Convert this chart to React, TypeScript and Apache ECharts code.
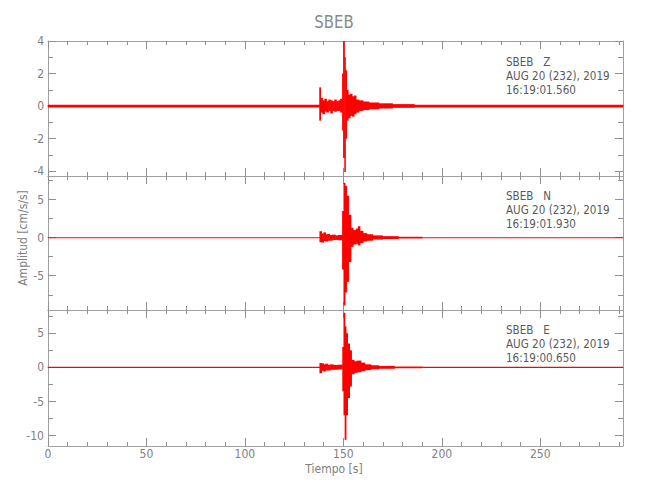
import React, { useEffect, useRef } from "react";
import * as echarts from "echarts";

// ---- Data ----
const stationName = "SBEB";
const components = ["Z", "N", "E"];
const dateLine = "AUG 20 (232), 2019";
const startTimes = ["16:19:01.560", "16:19:01.930", "16:19:00.650"];

const xMajorTicks = [0, 50, 100, 150, 200, 250];
const xMinorTicks = [10, 20, 30, 40, 60, 70, 80, 90, 110, 120, 130, 140, 160, 170, 180, 190, 210, 220, 230, 240, 260, 270, 280, 290];
const xMaxValue = 292;

const yMins = [-4.3, -9.5, -11.5];
const yMaxs = [4.0, 8.1, 8.4];
const yMajorTicks = [[-4, -2, 0, 2, 4], [-5, 0, 5], [-10, -5, 0, 5]];
const yMinorTicks = [[-3, -1, 1, 3], [-7.5, -2.5, 2.5, 7.5], [-7.5, -2.5, 2.5, 7.5]];

// Envelope bins of each trace: [start s, end s, upper, lower]
const zBins = [
  [0, 137.9, 0.085, -0.085],
  [137.9, 138.5, 1.15, -0.9],
  [138.5, 139.5, 0.5, -0.4],
  [139.5, 140.5, 0.35, -0.5],
  [140.5, 141.5, 0.45, -0.35],
  [141.5, 142.5, 0.3, -0.4],
  [142.5, 143.5, 0.4, -0.3],
  [143.5, 144.5, 0.35, -0.45],
  [144.5, 145.5, 0.3, -0.3],
  [145.5, 146.5, 0.4, -0.35],
  [146.5, 147.5, 0.3, -0.3],
  [147.5, 148.5, 0.35, -0.3],
  [148.5, 149.5, 0.45, -0.4],
  [149.5, 150.0, 2.0, -1.5],
  [150.0, 150.6, 4.0, -3.2],
  [150.6, 151.1, 3.0, -4.05],
  [151.1, 151.7, 2.2, -2.0],
  [151.7, 152.5, 1.0, -0.9],
  [152.5, 153.5, 0.7, -0.75],
  [153.5, 154.5, 0.75, -0.6],
  [154.5, 155.5, 0.6, -0.65],
  [155.5, 156.5, 0.65, -0.5],
  [156.5, 158, 0.4, -0.4],
  [158, 160, 0.35, -0.3],
  [160, 163, 0.28, -0.25],
  [163, 168, 0.22, -0.2],
  [168, 175, 0.17, -0.15],
  [175, 186, 0.12, -0.11],
  [186, 292, 0.085, -0.085],
];

const nBins = [
  [0, 138, 0.06, -0.06],
  [138, 139, 0.85, -0.6],
  [139, 140, 0.55, -0.65],
  [140, 141, 0.7, -0.45],
  [141, 142, 0.45, -0.5],
  [142, 143, 0.5, -0.4],
  [143, 144.5, 0.35, -0.4],
  [144.5, 146, 0.4, -0.3],
  [146, 147.5, 0.3, -0.3],
  [147.5, 149.5, 0.35, -0.35],
  [149.5, 150.2, 3.5, -4.2],
  [150.2, 150.9, 7.2, -8.9],
  [150.9, 151.7, 6.8, -7.2],
  [151.7, 152.7, 5.5, -5.8],
  [152.7, 153.9, 3.0, -3.2],
  [153.9, 155, 1.3, -1.2],
  [155, 156.5, 1.0, -0.9],
  [156.5, 157.5, 1.2, -0.8],
  [157.5, 158.5, 1.5, -1.0],
  [158.5, 160, 0.9, -0.7],
  [160, 162, 0.6, -0.5],
  [162, 165, 0.45, -0.4],
  [165, 170, 0.3, -0.25],
  [170, 178, 0.2, -0.18],
  [178, 190, 0.12, -0.11],
  [190, 292, 0.06, -0.06],
];

const eBins = [
  [0, 138, 0.08, -0.08],
  [138, 139, 0.65, -0.85],
  [139, 140, 0.6, -0.5],
  [140, 141, 0.45, -0.6],
  [141, 142, 0.55, -0.45],
  [142, 143.5, 0.4, -0.45],
  [143.5, 145, 0.45, -0.35],
  [145, 147, 0.35, -0.35],
  [147, 149.6, 0.4, -0.3],
  [149.6, 150.2, 3.0, -3.5],
  [150.2, 150.8, 8.0, -7.0],
  [150.8, 151.4, 6.0, -10.6],
  [151.4, 152.2, 5.0, -7.0],
  [152.2, 153.2, 3.5, -4.5],
  [153.2, 154.2, 2.5, -2.8],
  [154.2, 155.5, 1.1, -1.0],
  [155.5, 157, 0.9, -0.8],
  [157, 159, 1.0, -0.7],
  [159, 161, 0.7, -0.55],
  [161, 164, 0.45, -0.4],
  [164, 168, 0.32, -0.28],
  [168, 176, 0.22, -0.2],
  [176, 190, 0.13, -0.12],
  [190, 292, 0.08, -0.08],
];

const traces = [zBins, nBins, eBins];

// ---- Styling / layout ----
const FF = "'DejaVu Sans Condensed', 'Liberation Sans Narrow', 'Liberation Sans', sans-serif";
const AXIS_COLOR = "#a0a0a0";
const TICK_COLOR = "#909090";
const LABEL_COLOR = "#808080";
const TEXT_COLOR = "#5a5a5a";
const WAVE_COLOR = "#ff0000";
const GRID_LEFT = 48;
const GRID_WIDTH = 575;
const gridTops = [41, 176, 310];
const gridHeights = [135, 134, 136];

function buildOption() {
  const grids = gridTops.map((top, i) => ({
    left: GRID_LEFT,
    width: GRID_WIDTH,
    top,
    height: gridHeights[i],
    containLabel: false,
  }));

  const xAxes: any[] = [];
  const yAxes: any[] = [];
  for (let g = 0; g < 3; g++) {
    const isBottomPanel = g === 2;
    const xDefs = [
      { pos: "bottom", major: true, labels: isBottomPanel },
      { pos: "bottom", major: false, labels: false },
      { pos: "top", major: true, labels: false },
      { pos: "top", major: false, labels: false },
    ];
    xDefs.forEach((d) => {
      xAxes.push({
        type: "value",
        gridIndex: g,
        position: d.pos,
        min: 0,
        max: xMaxValue,
        axisLine: { show: d.major, onZero: false, lineStyle: { color: AXIS_COLOR, width: 1 } },
        axisTick: {
          show: true,
          inside: true,
          length: d.major ? 8 : 4,
          customValues: d.major ? xMajorTicks : xMinorTicks,
          lineStyle: { color: TICK_COLOR, width: 1 },
        },
        axisLabel: {
          show: d.labels,
          customValues: xMajorTicks,
          color: LABEL_COLOR,
          fontSize: 12,
          fontFamily: FF,
          margin: 2,
        },
        splitLine: { show: false },
      });
    });
    const yDefs = [
      { pos: "left", major: true, labels: true },
      { pos: "left", major: false, labels: false },
      { pos: "right", major: true, labels: false },
      { pos: "right", major: false, labels: false },
    ];
    yDefs.forEach((d) => {
      yAxes.push({
        type: "value",
        gridIndex: g,
        position: d.pos,
        min: yMins[g],
        max: yMaxs[g],
        axisLine: { show: d.major, onZero: false, lineStyle: { color: AXIS_COLOR, width: 1 } },
        axisTick: {
          show: true,
          inside: true,
          length: d.major ? 8 : 5,
          customValues: d.major ? yMajorTicks[g] : yMinorTicks[g],
          lineStyle: { color: TICK_COLOR, width: 1 },
        },
        axisLabel: {
          show: d.labels,
          customValues: yMajorTicks[g],
          color: LABEL_COLOR,
          fontSize: 12,
          fontFamily: FF,
          margin: 4,
        },
        splitLine: { show: false },
      });
    });
  }

  const series = traces.map((bins, g) => ({
    type: "custom",
    xAxisIndex: g * 4,
    yAxisIndex: g * 4,
    encode: { x: [0, 1], y: [2, 3] },
    data: bins,
    silent: true,
    renderItem: (params: any, api: any) => {
      const p0 = api.coord([api.value(0), api.value(2)]);
      const p1 = api.coord([api.value(1), api.value(3)]);
      return {
        type: "rect",
        shape: {
          x: p0[0] - 0.3,
          y: p0[1],
          width: Math.max(p1[0] - p0[0], 0.8) + 0.6,
          height: Math.max(p1[1] - p0[1], 1),
        },
        style: { fill: WAVE_COLOR },
      };
    },
  }));

  const annotationTops = [62, 196, 330];
  const graphics: any[] = [
    {
      type: "text",
      x: 334,
      y: 22,
      scaleX: 0.92,
      style: {
        text: stationName,
        fill: "#8a8a8a",
        font: `18px ${FF}`,
        textAlign: "center",
        textVerticalAlign: "middle",
      },
    },
    {
      type: "text",
      x: 23,
      y: 238,
      rotation: Math.PI / 2,
      style: {
        text: "Amplitud [cm/s/s]",
        fill: LABEL_COLOR,
        font: `12px ${FF}`,
        textAlign: "center",
        textVerticalAlign: "middle",
      },
    },
    {
      type: "text",
      x: 334,
      y: 469,
      style: {
        text: "Tiempo [s]",
        fill: LABEL_COLOR,
        font: `12px ${FF}`,
        textAlign: "center",
        textVerticalAlign: "middle",
      },
    },
  ];
  components.forEach((c, g) => {
    const lines = [`${stationName}   ${c}`, dateLine, startTimes[g]];
    lines.forEach((txt, k) => {
      graphics.push({
        type: "text",
        x: 506,
        y: annotationTops[g] + k * 14,
        scaleX: 0.89,
        style: {
          text: txt,
          fill: TEXT_COLOR,
          font: `13px ${FF}`,
          textAlign: "left",
          textVerticalAlign: "middle",
        },
      });
    });
  });

  return {
    animation: false,
    backgroundColor: "#ffffff",
    grid: grids,
    xAxis: xAxes,
    yAxis: yAxes,
    series,
    graphic: graphics,
  };
}

export default function App() {
  const ref = useRef<HTMLDivElement>(null);
  useEffect(() => {
    if (!ref.current) return;
    const chart = echarts.init(ref.current, undefined, { renderer: "svg" });
    chart.setOption(buildOption() as any);
    return () => chart.dispose();
  }, []);
  return (
    <div
      ref={ref}
      style={{ position: "absolute", left: 0, top: 0, width: 650, height: 500 }}
    />
  );
}
